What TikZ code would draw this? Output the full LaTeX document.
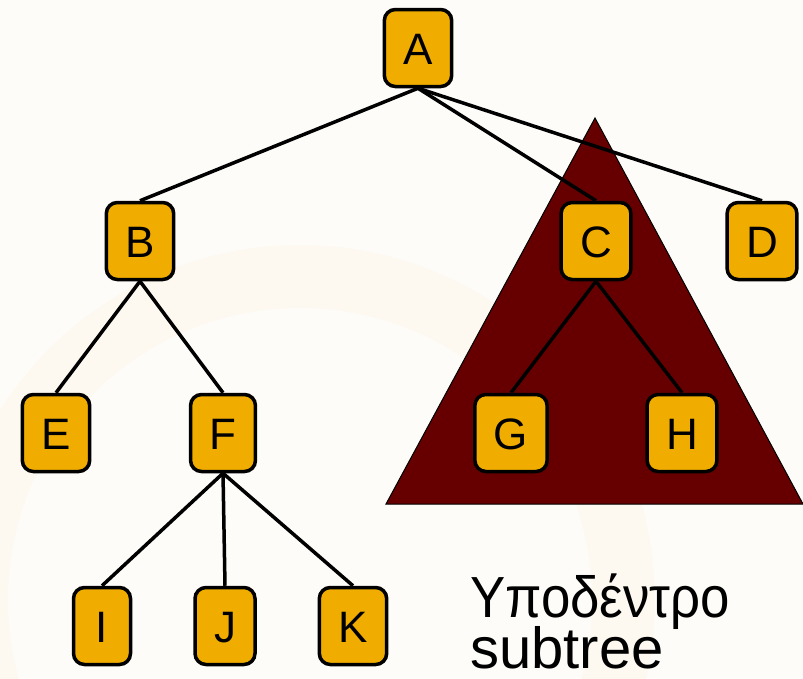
\documentclass[tikz,border=0pt]{standalone}
\usepackage{fontspec}
\setmainfont{Liberation Sans}
\pgfdeclarelayer{tri}
\pgfdeclarelayer{edges}
\pgfsetlayers{tri,edges,main}
\definecolor{boxfill}{RGB}{240,173,0}
\definecolor{subred}{RGB}{102,0,0}
\definecolor{bgcream}{RGB}{254,252,249}
\definecolor{ringcream}{RGB}{253,248,240}
\tikzset{
  treebox/.style={draw=black, line width=3.5pt, fill=boxfill, rounded corners=11pt,
    minimum width=57pt, minimum height=77pt, inner xsep=19pt, inner ysep=0pt,
    text height=32pt, text depth=0pt, font=\fontsize{44}{44}\selectfont},
  treeedge/.style={draw=black, line width=3.5pt},
  caption/.style={anchor=base west, inner sep=0pt, text depth=0pt, font=\fontsize{58}{58}\selectfont}
}
\begin{document}
\begin{tikzpicture}[x=1pt,y=-1pt]
\useasboundingbox (0,0) rectangle (803,678);
\begin{pgfonlayer}{tri}
  \fill[bgcream] (0,0) rectangle (803,678);
  \begin{scope}
    \clip (0,0) rectangle (803,678);
    \fill[ringcream, even odd rule] (300,600) circle[radius=355] (300,600) circle[radius=292];
  \end{scope}
  \filldraw[fill=subred, draw=black, line width=1pt] (595,118) -- (803,504) -- (386,504) -- cycle;
\end{pgfonlayer}

\node[treebox] (A) at (418,48) {A};
\node[treebox] (B) at (140,241) {B};
\node[treebox] (C) at (596,241) {C};
\node[treebox] (D) at (762,241) {D};
\node[treebox] (E) at (56,433) {E};
\node[treebox] (F) at (223,433) {F};
\node[treebox] (G) at (511,433) {G};
\node[treebox] (H) at (682,433) {H};
\node[treebox] (I) at (102,626) {I};
\node[treebox] (J) at (225,626) {J};
\node[treebox] (K) at (353,626) {K};

\begin{pgfonlayer}{edges}
  \draw[treeedge] (A.south) -- (B.north);
  \draw[treeedge] (A.south) -- (C.north);
  \draw[treeedge] (A.south) -- (D.north);
  \draw[treeedge] (B.south) -- (E.north);
  \draw[treeedge] (B.south) -- (F.north);
  \draw[treeedge] (C.south) -- (G.north);
  \draw[treeedge] (C.south) -- (H.north);
  \draw[treeedge] (F.south) -- (I.north);
  \draw[treeedge] (F.south) -- (J.north);
  \draw[treeedge] (F.south) -- (K.north);
\end{pgfonlayer}

\node[caption] (t1) at (470,617) {\scalebox{0.91}[1]{Υποδέντρο}};
\node[caption] (t2) at (470,668) {subtree};
\end{tikzpicture}
\end{document}
